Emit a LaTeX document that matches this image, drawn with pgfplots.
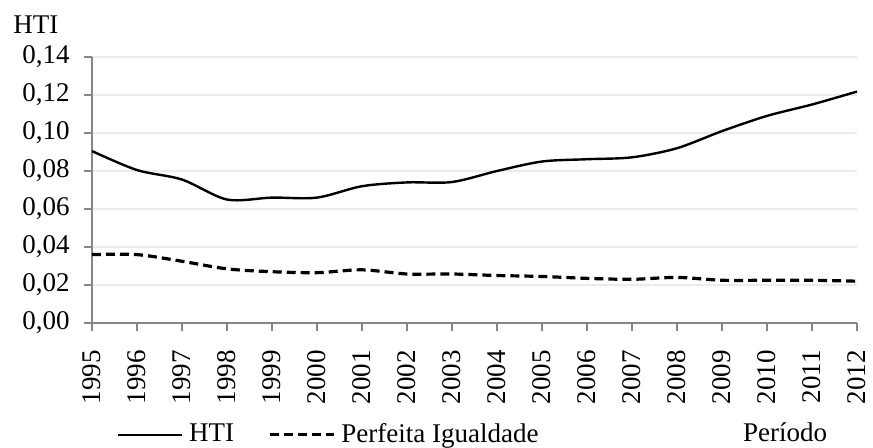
\documentclass[border=0pt]{standalone}
\usepackage{pgfplots}
\pgfplotsset{compat=1.18}
\usepackage{fontspec}
\setmainfont{Liberation Serif}
\definecolor{gridc}{HTML}{EEECE1}
\definecolor{axc}{HTML}{868686}
\pgfplotsset{legline/.style={legend image code/.code={\draw[##1] (0pt,0pt) -- (32pt,0pt);}}}

\begin{document}
\fontsize{13.5}{16}\selectfont
\begin{tikzpicture}
\begin{axis}[
    at={(0,0)}, anchor=south west,
    scale only axis,
    width=382.5pt, height=133pt,
    xmin=1995, xmax=2012,
    ymin=0, ymax=0.14,
    axis x line=bottom, axis y line=left,
    axis line style={-, axc, line width=0.8pt},
    xtick={1995,...,2012},
    ytick={0,0.02,...,0.14},
    tick style={axc, line width=0.8pt},
    major tick length=4pt,
    xtick align=outside, ytick align=outside,
    xticklabel shift=5pt, yticklabel shift=2.5pt,
    xticklabel style={rotate=90, anchor=east, font=\fontsize{13.5}{16}\selectfont, /pgf/number format/1000 sep={}},
    yticklabel style={font=\fontsize{13.5}{16}\selectfont, /pgf/number format/.cd, fixed, fixed zerofill, precision=2, use comma},
    /pgf/number format/assume math mode=true,
    ymajorgrids=true,
    grid style={gridc, line width=0.8pt},
    legend columns=2,
    legend style={draw=none, fill=none, at={(axis description cs:0.024,-0.42)}, anchor=west,
        font=\fontsize{13.5}{16}\selectfont, column sep=1pt,
        /tikz/every even column/.append style={column sep=15pt}},
    clip=false,
]
\addplot[black, line width=1.2pt, smooth, legline] coordinates {
(1995,0.0905) (1996,0.0805) (1997,0.0755) (1998,0.0650) (1999,0.0660)
(2000,0.0660) (2001,0.0720) (2002,0.0740) (2003,0.0742) (2004,0.0800)
(2005,0.0850) (2006,0.0862) (2007,0.0872) (2008,0.0920) (2009,0.1010)
(2010,0.1090) (2011,0.1150) (2012,0.1218)
};
\addplot[black, line width=1.6pt, dash pattern=on 4.5pt off 2.5pt, smooth, legline] coordinates {
(1995,0.0360) (1996,0.0360) (1997,0.0325) (1998,0.0285) (1999,0.0270)
(2000,0.0265) (2001,0.0280) (2002,0.0258) (2003,0.0258) (2004,0.0250)
(2005,0.0245) (2006,0.0235) (2007,0.0230) (2008,0.0240) (2009,0.0225)
(2010,0.0225) (2011,0.0225) (2012,0.0220)
};
\legend{HTI, Perfeita Igualdade}
\node[anchor=west] at (axis description cs:-0.115,1.12) {HTI};
\node at (axis description cs:0.906,-0.41) {Período};
\end{axis}
\pgfresetboundingbox
\path (-46pt,-62pt) rectangle (390.5pt,161.5pt);
\end{tikzpicture}
\end{document}
